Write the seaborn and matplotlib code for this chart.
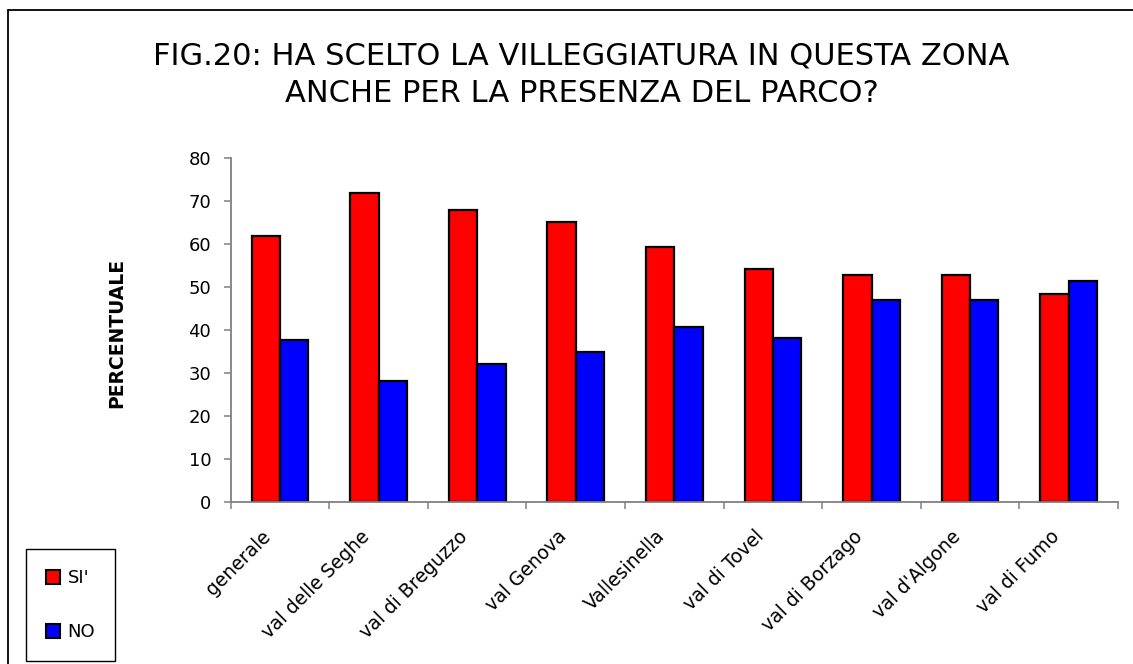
import matplotlib
matplotlib.use("Agg")
import matplotlib.pyplot as plt
import matplotlib.transforms as mtransforms
import seaborn as sns
import pandas as pd
from matplotlib.patches import Patch
from matplotlib.lines import Line2D

categories = ["generale", "val delle Seghe", "val di Breguzzo", "val Genova",
              "Vallesinella", "val di Tovel", "val di Borzago", "val d'Algone", "val di Fumo"]
si_values = [62.0, 72.0, 67.9, 65.1, 59.3, 54.2, 52.9, 52.9, 48.4]
no_values = [37.6, 28.1, 32.0, 34.9, 40.8, 38.2, 47.1, 47.1, 51.5]
series_names = ["SI'", "NO"]
y_ticks = [0, 10, 20, 30, 40, 50, 60, 70, 80]

df = pd.DataFrame({
    "zona": categories * 2,
    "risposta": [series_names[0]] * len(categories) + [series_names[1]] * len(categories),
    "valore": si_values + no_values,
})

sns.set_theme(style="white")
plt.rcParams['font.family'] = ['DejaVu Sans']
plt.rcParams['text.color'] = 'black'
plt.rcParams['axes.labelcolor'] = 'black'
plt.rcParams['xtick.color'] = 'black'
plt.rcParams['ytick.color'] = 'black'

W, H = 1133, 664
fig = plt.figure(figsize=(W / 100, H / 100), dpi=100)
ax = fig.add_axes([230.7 / W, (H - 501.7) / H, (1118 - 230.7) / W, (501.7 - 158.3) / H])

palette = {"SI'": "#FF0000", "NO": "#0000FF"}
sns.barplot(data=df, x="zona", y="valore", hue="risposta", order=categories,
            hue_order=series_names, palette=palette, width=0.575, dodge=True,
            edgecolor="black", linewidth=1.6, saturation=1, ax=ax, legend=False)

ax.set_xlim(-0.5, len(categories) - 0.5)
ax.set_ylim(0, 80)
ax.set_yticks(y_ticks)
ax.set_xlabel("")
ax.set_ylabel("PERCENTUALE", fontsize=13.5, fontweight="bold", color="black")
ax.yaxis.set_label_coords(126 / W, (H - 333) / H, transform=fig.transFigure)

for s in ["top", "right"]:
    ax.spines[s].set_visible(False)
for s in ["left", "bottom"]:
    ax.spines[s].set_color("#808080")
    ax.spines[s].set_linewidth(1.3)

ax.tick_params(axis="y", which="major", direction="out", length=5, width=1.1,
               color="#808080", labelsize=13, labelcolor="black", left=True, pad=9)
ax.set_xticks(range(len(categories)))
ax.set_xticklabels(categories, rotation=45, ha="right", rotation_mode="anchor",
                   fontsize=13.5, color="black")
ax.tick_params(axis="x", which="major", length=0, pad=18)
offset = mtransforms.ScaledTranslation(-19 / 100, 0, fig.dpi_scale_trans)
for lbl in ax.get_xticklabels():
    lbl.set_transform(lbl.get_transform() + offset)
ax.set_xticks([i - 0.5 for i in range(len(categories) + 1)], minor=True)
ax.tick_params(axis="x", which="minor", direction="out", length=5, width=1.1,
               color="#808080", bottom=True)

fig.text(581.5 / W, 1 - 56 / H, "FIG.20: HA SCELTO LA VILLEGGIATURA IN QUESTA ZONA",
         ha="center", va="center", fontsize=22, color="black")
fig.text(581.5 / W, 1 - 93 / H, "ANCHE PER LA PRESENZA DEL PARCO?",
         ha="center", va="center", fontsize=22, color="black")

# figure border (top and left visible)
fig.add_artist(Line2D([7.5 / W, 7.5 / W], [0, 1 - 10 / H], transform=fig.transFigure,
                      color="black", linewidth=1.3))
fig.add_artist(Line2D([7.5 / W, 1], [1 - 10 / H, 1 - 10 / H], transform=fig.transFigure,
                      color="black", linewidth=1.3))

handles = [Patch(facecolor=palette[n], edgecolor="black", linewidth=1.5) for n in series_names]
leg = fig.legend(handles, series_names, loc="lower left",
                 bbox_to_anchor=(26 / W, 3 / H), borderaxespad=0, fontsize=13,
                 frameon=True, fancybox=False, edgecolor="black", framealpha=1,
                 handlelength=0.8, handleheight=0.8, handletextpad=0.4,
                 labelspacing=2.0, borderpad=1.1)
leg.get_frame().set_linewidth(1.0)
for t in leg.get_texts():
    t.set_color("black")

fig.savefig("out.png", dpi=100)
